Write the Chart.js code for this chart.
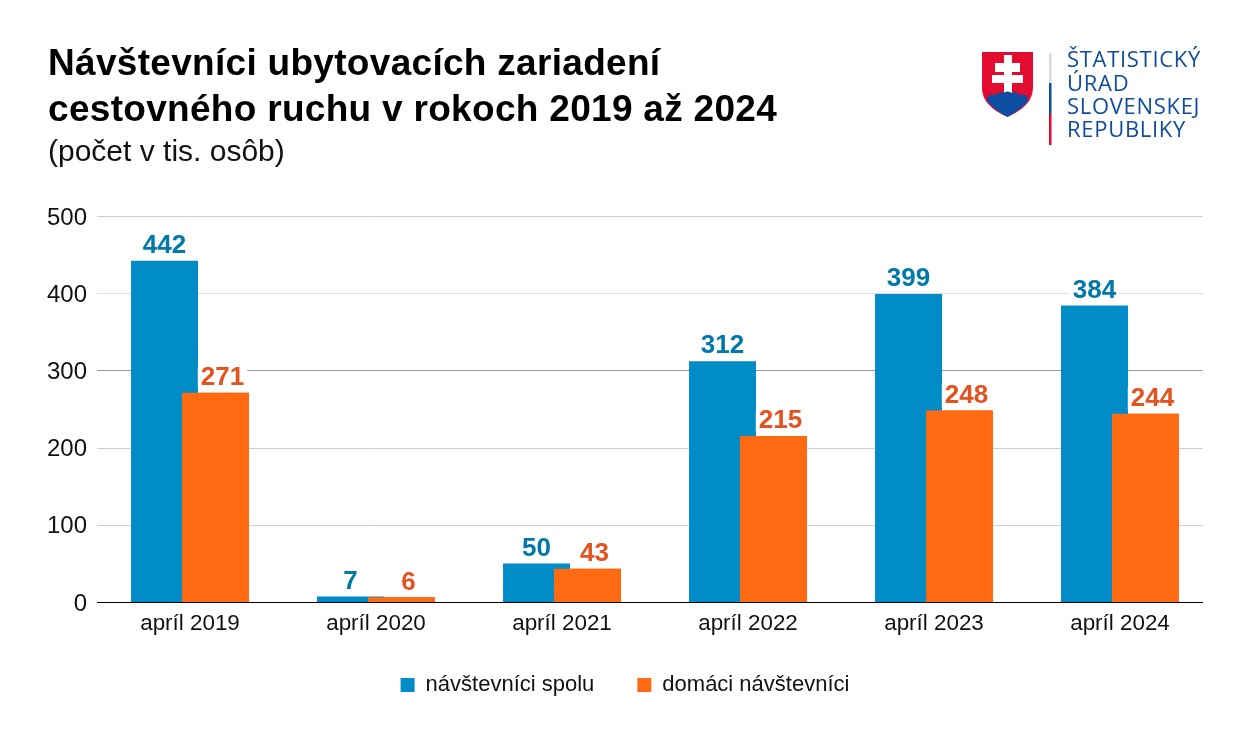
<!DOCTYPE html>
<html lang="sk">
<head>
<meta charset="utf-8">
<title>Návštevníci ubytovacích zariadení</title>
<script src="https://cdn.jsdelivr.net/npm/chart.js@4"></script>
<style>
  html, body { margin: 0; background: #fff; }
  #wrap { position: relative; width: 1250px; height: 739px; overflow: hidden; font-family: "Liberation Sans", Arial, sans-serif; }
  #chart { position: absolute; left: 0; top: 0; }
  h1 { position: absolute; left: 48px; top: 40px; margin: 0; font-size: 37px; line-height: 46px; font-weight: bold; color: #000; letter-spacing: 0.3px; }
  #sub { position: absolute; left: 48px; top: 133px; font-size: 30px; line-height: 36px; color: #111; }
  #logo { position: absolute; left: 0; top: 0; }
  #logo text { font-family: "Open Sans", "Noto Sans", sans-serif; font-size: 22px; fill: #0f4c9c; letter-spacing: 0.7px; }
</style>
</head>
<body>
<div id="wrap">
  <canvas id="chart" width="1250" height="739"></canvas>
  <h1>Návštevníci ubytovacích zariadení<br>cestovného ruchu v rokoch 2019 až 2024</h1>
  <div id="sub">(počet v tis. osôb)</div>
  <svg id="logo" width="1250" height="160">
    <path d="M982 52 H1033 V88 Q1033 106 1007.5 117 Q982 106 982 88 Z" fill="#e30b2f"/>
    <path d="M1004 55 H1012 V63 H1020 V72 H1012 V75 H1023 V83 H1012 V94 H1004 V83 H992 V75 H1004 V72 H995 V63 H1004 Z" fill="#fff"/>
    <path d="M987 101 Q987 93 995 95 Q1000 91 1003 93 Q1007.5 90 1012 93 Q1016 91 1020 95 Q1028 93 1028 101 Q1019 111 1007.5 117 Q996 111 987 101 Z" fill="#0b4ea2"/>
    <rect x="1049" y="53" width="2.5" height="30" fill="#d5dadb"/>
    <rect x="1049" y="83" width="2.5" height="31" fill="#0b4ea2"/>
    <rect x="1049" y="114" width="2.5" height="31" fill="#e30b2f"/>
    <text x="1067" y="67">ŠTATISTICKÝ</text>
    <text x="1067" y="91">ÚRAD</text>
    <text x="1067" y="114">SLOVENSKEJ</text>
    <text x="1067" y="137">REPUBLIKY</text>
  </svg>
</div>
<script>
const categories = ['apríl 2019', 'apríl 2020', 'apríl 2021', 'apríl 2022', 'apríl 2023', 'apríl 2024'];
const spolu = [442, 7, 50, 312, 399, 384];
const domaci = [271, 6, 43, 215, 248, 244];
const yTicks = [0, 100, 200, 300, 400, 500];
const gridColors = ['#000000', '#cfcfcf', '#cfcfcf', '#9a9a9a', '#dedede', '#cfcfcf'];

const FONT = '"Liberation Sans", Arial, sans-serif';
const GRID_RIGHT = 1203;

// orange overlaps blue, chart.js would paint the first dataset on top
const redrawOrange = {
  id: 'redrawOrange',
  afterDatasetsDraw(chart) {
    chart.getDatasetMeta(1).controller.draw();
  }
};

// grid stops short of the chart area, so it can't be the built in one
const gridLines = {
  id: 'gridLines',
  beforeDatasetsDraw(chart) {
    const c = chart.ctx, y = chart.scales.y, left = chart.chartArea.left;
    yTicks.forEach((t, i) => {
      if (t === 0) return;
      const py = Math.round(y.getPixelForValue(t)) + 0.5;
      c.strokeStyle = gridColors[i];
      c.lineWidth = 1;
      c.beginPath();
      c.moveTo(left, py);
      c.lineTo(GRID_RIGHT, py);
      c.stroke();
    });
  },
  afterDatasetsDraw(chart) {
    const c = chart.ctx, py = Math.round(chart.scales.y.getPixelForValue(0)) + 0.5;
    c.strokeStyle = gridColors[0];
    c.lineWidth = 1;
    c.beginPath();
    c.moveTo(chart.chartArea.left, py);
    c.lineTo(GRID_RIGHT, py);
    c.stroke();
  }
};

const valueLabels = {
  id: 'valueLabels',
  afterDatasetsDraw(chart) {
    const c = chart.ctx;
    c.font = 'bold 26px ' + FONT;
    c.textAlign = 'center';
    c.textBaseline = 'middle';
    chart.data.datasets.forEach((ds, d) => {
      chart.getDatasetMeta(d).data.forEach((bar, i) => {
        const x = bar.x + ds.labelShift;
        const y = bar.y - 15;
        const w = c.measureText(ds.data[i]).width;
        c.fillStyle = '#fff';
        c.fillRect(x - w / 2 - 3, y - 11, w + 6, 22);
        c.fillStyle = ds.labelColor;
        c.fillText(ds.data[i], x, y);
      });
    });
  }
};

// legend sits a bit closer to the axis than the layout allows
const legendNudge = {
  id: 'legendNudge',
  afterLayout(chart) {
    chart.legend.top -= 4;
  }
};

new Chart(document.getElementById('chart'), {
  type: 'bar',
  data: {
    labels: categories,
    datasets: [
      { label: 'návštevníci spolu', data: spolu, backgroundColor: '#008cc6', labelColor: '#0079a9', labelShift: 0 },
      { label: 'domáci návštevníci', data: domaci, backgroundColor: '#ff6a13', labelColor: '#e2531f', labelShift: 7 }
    ]
  },
  options: {
    responsive: false,
    animation: false,
    categoryPercentage: 0.548,
    barPercentage: 1.314,
    layout: { padding: { left: 37, right: 37, top: 216, bottom: 29 } },
    plugins: {
      title: { display: false },
      tooltip: { enabled: false },
      legend: {
        position: 'bottom',
        labels: {
          boxWidth: 14,
          boxHeight: 14,
          padding: 43,
          color: '#111',
          font: { family: FONT, size: 22 }
        }
      }
    },
    scales: {
      x: {
        grid: { display: false },
        border: { display: false },
        ticks: { color: '#111', font: { family: FONT, size: 22.4 }, padding: 0, maxRotation: 0 },
        afterFit(scale) { scale.height = 33; }
      },
      y: {
        min: 0,
        max: 500,
        afterBuildTicks(scale) { scale.ticks = yTicks.map(v => ({ value: v })); },
        grid: { display: false },
        border: { display: false },
        ticks: { color: '#111', font: { family: FONT, size: 24 }, padding: 2, labelOffset: 2 },
        afterFit(scale) { scale.width = 60; }
      }
    }
  },
  plugins: [gridLines, redrawOrange, valueLabels, legendNudge]
});
</script>
</body>
</html>
